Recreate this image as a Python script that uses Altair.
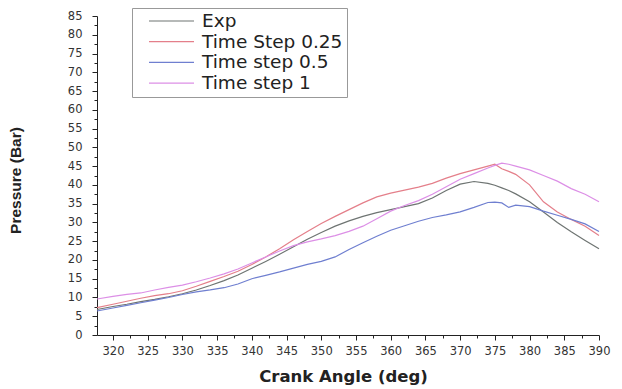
import altair as alt
import pandas as pd

angles = [317.7, 320, 322, 324, 326, 328, 330, 332, 334, 336, 338, 340, 342, 344, 346,
          348, 350, 352, 354, 356, 358, 360, 362, 364, 366, 368, 370, 372, 374, 375,
          376, 377, 378, 380, 382, 384, 386, 388, 390]

exp_vals = [6.8, 7.6, 8.2, 8.9, 9.5, 10.2, 11.0, 12.0, 13.2, 14.5, 16.0, 17.8, 19.6, 21.5, 23.5,
            25.5, 27.3, 29.0, 30.4, 31.6, 32.6, 33.4, 34.2, 35.0, 36.5, 38.5, 40.2, 40.9, 40.4, 39.9,
            39.2, 38.5, 37.6, 35.5, 32.8, 30.0, 27.5, 25.2, 23.0]

ts025_vals = [7.3, 8.2, 9.0, 9.8, 10.5, 11.0, 11.8, 13.0, 14.3, 15.6, 17.0, 18.8, 20.8, 23.0, 25.4,
              27.6, 29.7, 31.6, 33.4, 35.2, 36.8, 37.8, 38.6, 39.4, 40.4, 41.8, 43.0, 44.0, 45.0, 45.5,
              44.3, 43.6, 42.8, 40.0, 35.5, 32.8, 30.8, 29.0, 26.5]

ts05_vals = [6.4, 7.2, 7.9, 8.6, 9.3, 10.0, 10.8, 11.5, 12.0, 12.6, 13.6, 15.0, 15.9, 16.8, 17.8,
             18.8, 19.6, 20.8, 22.8, 24.6, 26.3, 27.9, 29.1, 30.3, 31.3, 32.0, 32.8, 34.0, 35.3, 35.4,
             35.2, 34.0, 34.6, 34.2, 33.0, 31.9, 30.8, 29.6, 27.6]

ts1_vals = [9.6, 10.3, 10.8, 11.2, 12.0, 12.7, 13.3, 14.2, 15.2, 16.3, 17.6, 19.2, 20.8, 22.4, 23.8,
            24.8, 25.6, 26.5, 27.6, 29.0, 31.0, 33.0, 34.5, 35.8, 37.5, 39.5, 41.5, 43.0, 44.5, 45.2,
            45.8, 45.5, 45.0, 44.0, 42.5, 41.0, 39.0, 37.5, 35.5]

series_names = ["Exp", "Time Step 0.25", "Time step 0.5", "Time step 1"]
series_colors = ["#6e7472", "#e47f8a", "#6f7fd0", "#dc8fe6"]

x_tick_values = [320 + 2.5 * i for i in range(29)]
y_tick_values = [2.5 * i for i in range(35)]

rows = []
for name, vals in zip(series_names, [exp_vals, ts025_vals, ts05_vals, ts1_vals]):
    for a, v in zip(angles, vals):
        rows.append({"angle": a, "pressure": v, "series": name})
df = pd.DataFrame(rows)

major_test = "datum.value % 5 === 0"

chart = alt.Chart(df).mark_line(strokeWidth=1.2).encode(
    x=alt.X(
        "angle:Q",
        scale=alt.Scale(domain=[317.7, 390], nice=False, zero=False),
        axis=alt.Axis(
            values=x_tick_values,
            title="Crank Angle (deg)",
            format="d",
            labelExpr="datum.value % 5 === 0 ? datum.label : ''",
            labelOverlap=False,
            labelFlush=False,
            labelFont="DejaVu Sans",
            labelFontSize=11.5,
            labelColor="#333333",
            labelPadding=5,
            tickSize={"condition": {"test": major_test, "value": 5}, "value": 3},
            tickColor="#222222",
            domainColor="#222222",
            grid=False,
            titleFont="DejaVu Sans",
            titleFontSize=16.5,
            titleFontWeight="bold",
            titleColor="#222222",
            titlePadding=12,
            titleX=246,
        ),
    ),
    y=alt.Y(
        "pressure:Q",
        scale=alt.Scale(domain=[0, 85], nice=False),
        axis=alt.Axis(
            values=y_tick_values,
            title="Pressure (Bar)",
            format="d",
            labelExpr="datum.value % 5 === 0 ? datum.label : ''",
            labelOverlap=False,
            labelFlush=False,
            labelFont="DejaVu Sans",
            labelFontSize=11.5,
            labelColor="#333333",
            labelPadding=10,
            tickSize={"condition": {"test": major_test, "value": 5}, "value": 3},
            tickColor="#222222",
            domainColor="#222222",
            grid=False,
            titleFont="Liberation Sans",
            titleFontSize=15.5,
            titleFontWeight="bold",
            titleColor="#222222",
            titleX=-74,
            titleY=164,
        ),
    ),
    color=alt.Color(
        "series:N",
        scale=alt.Scale(domain=series_names, range=series_colors),
        legend=alt.Legend(
            title=None,
            orient="none",
            legendX=35,
            legendY=-8,
            symbolType="stroke",
            symbolSize=2025,
            symbolStrokeWidth=1.2,
            symbolOffset=12,
            clipHeight=18,
            labelFont="DejaVu Sans",
            labelFontSize=18.5,
            labelColor="#222222",
            labelLimit=400,
            labelOffset=7,
            rowPadding=1.7,
            strokeColor="#999999",
            fillColor="white",
            padding=4,
        ),
    ),
    order="angle:Q",
).properties(
    width=502,
    height=319,
    autosize=alt.AutoSizeParams(type="none"),
    padding={"left": 89, "top": 8, "right": 15, "bottom": 54},
).configure_view(stroke=None)

chart.save("out.html", embed_options={"renderer": "svg", "actions": False})
